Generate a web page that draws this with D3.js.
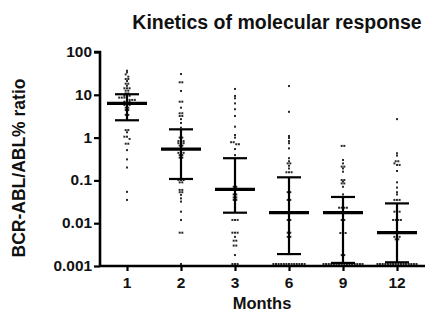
<!DOCTYPE html>
<html>
<head>
<meta charset="utf-8">
<script src="https://cdn.jsdelivr.net/npm/d3@7"></script>
<style>
  body { margin: 0; background: #fff; }
  svg { display: block; font-family: "Liberation Sans", Arial, sans-serif; }
</style>
</head>
<body>
<svg id="chart" width="427" height="313"></svg>
<script>
// months on the x axis
const months = ["1", "2", "3", "6", "9", "12"];

// individual patient ratios (%)
const month1 = [36.5, 33.5, 30, 26.5, 23.4, 23.4, 21, 18.2, 18.2, 16.3, 14.2, 14.2, 14.2, 12.5, 12.5,
  10.8, 10.8, 9.5, 9.5, 9.5, 8.6, 8.6, 8.6, 7.6, 7.6, 7.6, 7.6, 6.9, 6.9, 6.9, 5.8, 5.8, 5.8,
  5.0, 5.0, 4.4, 4.4, 3.9, 3.4, 3.4, 2.9, 1.5, 1.5, 1.33, 1.05, 1.05, 0.93, 0.72, 0.72, 0.51,
  0.31, 0.2, 0.054, 0.035];
const month2 = [30.6, 19.6, 19.6, 12.3, 6.9, 6.9, 5.0, 3.7, 3.7, 3.2, 3.2, 2.7, 2.2, 1.7, 1.19,
  1.0, 1.0, 0.83, 0.83, 0.83, 0.74, 0.74, 0.74, 0.65, 0.65, 0.44, 0.44, 0.44, 0.39, 0.39, 0.34,
  0.34, 0.175, 0.155, 0.102, 0.102, 0.102, 0.09, 0.09, 0.06, 0.06, 0.053, 0.053, 0.046, 0.038,
  0.032, 0.0186, 0.0119, 0.006, 0.006, 0.001];
const month3 = [13.7, 9.4, 8.3, 6.3, 4.6, 3.2, 1.8, 1.15, 1.0, 0.78, 0.78, 0.70, 0.70, 0.54, 0.39,
  0.32, 0.19, 0.127, 0.071, 0.071, 0.060, 0.060, 0.047, 0.047, 0.040, 0.040, 0.035, 0.035, 0.028,
  0.0119, 0.0119, 0.0119, 0.006, 0.006, 0.006, 0.0048, 0.0039, 0.0039, 0.003, 0.003, 0.0018,
  0.001, 0.001, 0.001];
const month6 = [16, 4.0, 1.09, 0.98, 0.83, 0.74, 0.56, 0.33, 0.28, 0.25, 0.25, 0.22, 0.19, 0.155,
  0.155, 0.155, 0.065, 0.053, 0.053, 0.042, 0.035, 0.035, 0.029, 0.018, 0.018, 0.0119, 0.0119,
  0.006, 0.006, 0.0048, 0.0048, 0.0042, 0.0019, 0.0019,
  0.001, 0.001, 0.001, 0.001, 0.001, 0.001, 0.001, 0.001, 0.001, 0.001, 0.001, 0.001, 0.001];
const month9 = [0.64, 0.64, 0.30, 0.25, 0.21, 0.21, 0.19, 0.16, 0.102, 0.102, 0.094, 0.085, 0.085,
  0.071, 0.047, 0.023, 0.023, 0.023, 0.023, 0.0119, 0.0119, 0.0059, 0.0059, 0.0059, 0.0046, 0.003,
  0.0018, 0.0018,
  0.001, 0.001, 0.001, 0.001, 0.001, 0.001, 0.001, 0.001, 0.001, 0.001, 0.001, 0.001, 0.001,
  0.001, 0.001, 0.001];
const month12 = [2.7, 0.43, 0.38, 0.28, 0.28, 0.25, 0.23, 0.23, 0.166, 0.09, 0.068, 0.053, 0.047,
  0.035, 0.035, 0.035, 0.0186, 0.0186, 0.0186, 0.0119, 0.0119, 0.0119, 0.0119, 0.0048, 0.0048,
  0.0048, 0.0042, 0.0042, 0.002, 0.0013,
  0.001, 0.001, 0.001, 0.001, 0.001, 0.001, 0.001, 0.001, 0.001, 0.001, 0.001, 0.001, 0.001,
  0.001, 0.001, 0.001];

// median and interquartile range per month
const medians = [6.3, 0.54, 0.062, 0.0176, 0.0176, 0.006];
const upperQ = [10.3, 1.56, 0.33, 0.118, 0.041, 0.029];
const lowerQ = [2.54, 0.108, 0.0176, 0.0019, 0.00118, 0.00122];

const yTicks = [0.001, 0.01, 0.1, 1, 10, 100];
const yTickLabels = ["0.001", "0.01", "0.1", "1", "10", "100"];

const groups = [month1, month2, month3, month6, month9, month12];

const svg = d3.select("#chart");

const x = d3.scalePoint().domain(months).range([100, 424]).padding(0.5);
const y = d3.scaleLog().domain([0.001, 100]).range([266, 52]);

// dots, spread sideways when they share a row
const dotGap = 2.6;
groups.forEach((vals, gi) => {
  const cx = x(months[gi]);
  const rows = d3.group(vals, v => Math.round(y(v) / 2.6));
  rows.forEach(rowVals => {
    const n = rowVals.length;
    rowVals.forEach((v, i) => {
      const px = cx + (i - (n - 1) / 2) * dotGap;
      const py = Math.min(y(v), 264);
      svg.append("rect")
        .attr("x", px - 1)
        .attr("y", py - 1)
        .attr("width", 2)
        .attr("height", 2)
        .attr("fill", "#2a2a2a");
    });
  });
});

// median with interquartile bars
const bars = svg.append("g").attr("stroke", "#000");
months.forEach((m, i) => {
  const cx = x(m);
  bars.append("line")
    .attr("x1", cx).attr("x2", cx)
    .attr("y1", y(upperQ[i])).attr("y2", y(lowerQ[i]))
    .attr("stroke-width", 2.2);
  [upperQ[i], lowerQ[i]].forEach(v => {
    bars.append("line")
      .attr("x1", cx - 12).attr("x2", cx + 12)
      .attr("y1", y(v)).attr("y2", y(v))
      .attr("stroke-width", 2.2);
  });
  bars.append("line")
    .attr("x1", cx - 20).attr("x2", cx + 20)
    .attr("y1", y(medians[i])).attr("y2", y(medians[i]))
    .attr("stroke-width", 3.2);
});

// y axis
const yAxis = d3.axisLeft(y).tickValues(yTicks).tickSize(6).tickFormat("");
const gy = svg.append("g").attr("transform", "translate(100,0)").call(yAxis);
gy.select(".domain").attr("d", "M-6," + y(100) + "H0V" + y(0.001)).attr("stroke-width", 2.6);
gy.selectAll(".tick line").attr("stroke-width", 2.2);

svg.append("g").selectAll("text")
  .data(yTicks)
  .join("text")
  .attr("transform", d => "translate(92," + (y(d) + 5) + ") scale(1.1,1)")
  .attr("text-anchor", "end")
  .attr("font-size", 14)
  .attr("font-weight", "bold")
  .attr("fill", "#111")
  .text((d, i) => yTickLabels[i]);

// x axis
const xAxis = d3.axisBottom(x).tickSize(5).tickFormat("");
const gx = svg.append("g").attr("transform", "translate(0,266)").call(xAxis);
gx.select(".domain").attr("d", "M100,0H425").attr("stroke-width", 2.6);
gx.selectAll(".tick line").attr("stroke-width", 2.2);

svg.append("g").selectAll("text")
  .data(months)
  .join("text")
  .attr("x", d => x(d))
  .attr("y", 287.5)
  .attr("text-anchor", "middle")
  .attr("font-size", 15.5)
  .attr("font-weight", "bold")
  .attr("fill", "#111")
  .text(d => d);

// titles
svg.append("text")
  .attr("x", 277).attr("y", 29)
  .attr("text-anchor", "middle")
  .attr("font-size", 19.5)
  .attr("font-weight", "bold")
  .attr("fill", "#111")
  .text("Kinetics of molecular response");

svg.append("text")
  .attr("x", 262).attr("y", 308.5)
  .attr("text-anchor", "middle")
  .attr("font-size", 16.5)
  .attr("font-weight", "bold")
  .attr("fill", "#111")
  .text("Months");

svg.append("text")
  .attr("transform", "translate(25,168) rotate(-90)")
  .attr("text-anchor", "middle")
  .attr("font-size", 17.5)
  .attr("font-weight", "bold")
  .attr("fill", "#111")
  .text("BCR-ABL/ABL% ratio");
</script>
</body>
</html>
